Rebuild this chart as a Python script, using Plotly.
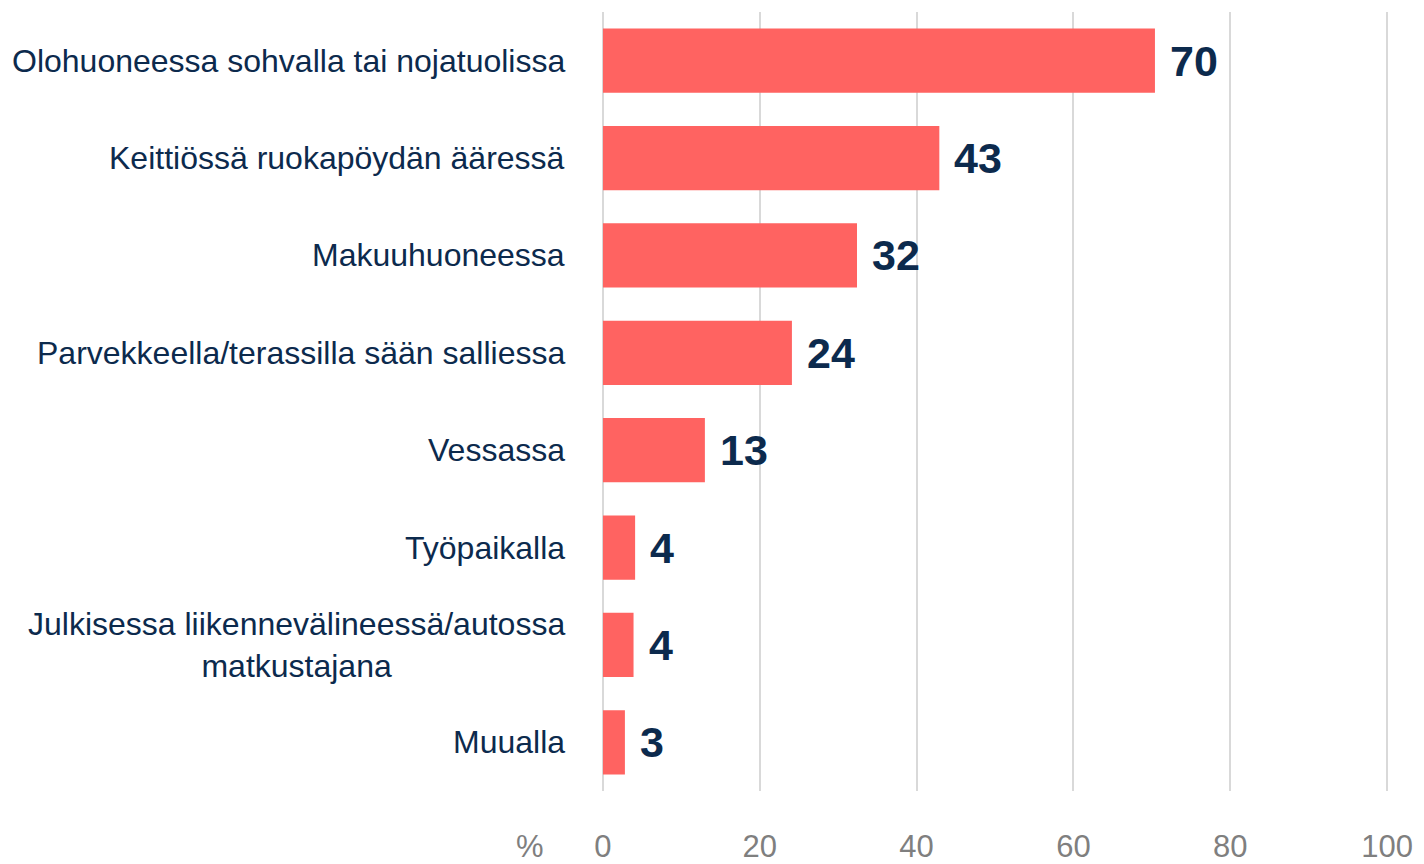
import plotly.graph_objects as go

categories = [
    "Olohuoneessa sohvalla tai nojatuolissa",
    "Keittiössä ruokapöydän ääressä",
    "Makuuhuoneessa",
    "Parvekkeella/terassilla sään salliessa",
    "Vessassa",
    "Työpaikalla",
    "Julkisessa liikennevälineessä/autossa<br>matkustajana",
    "Muualla",
]
values = [70.4, 42.9, 32.4, 24.1, 13.0, 4.1, 3.9, 2.8]
labels = ["70", "43", "32", "24", "13", "4", "4", "3"]
x_ticks = [0, 20, 40, 60, 80, 100]

NAVY = "#0c2a4d"
BAR = "#ff6361"
GRAY = "#7f7f7f"
FONT = "Liberation Sans, Arial"

fig = go.Figure()
fig.add_trace(go.Bar(
    x=values, y=categories, orientation="h",
    marker=dict(color=BAR, line=dict(width=0)),
    width=0.66, hoverinfo="skip",
))

for c, v, t in zip(categories, values, labels):
    fig.add_annotation(x=v, y=c, xref="x", yref="y", text=f"<b>{t}</b>",
                       showarrow=False, xanchor="left", xshift=13,
                       font=dict(size=43, color=NAVY, family=FONT))
    fig.add_annotation(x=0, y=c, xref="x", yref="y", text=c,
                       showarrow=False, xanchor="right", align="center", xshift=-36,
                       font=dict(size=32, color=NAVY, family=FONT))

fig.add_annotation(x=0, y=0, xref="paper", yref="paper", text="%",
                   showarrow=False, xanchor="center", yanchor="middle",
                   xshift=-71, yshift=-55,
                   font=dict(size=31, color=GRAY, family=FONT))

# page body has an 8px margin: figure is drawn at (8, 8)
fig.update_layout(
    width=1416, height=856,
    margin=dict(l=593, r=35, t=4, b=73, autoexpand=False),
    paper_bgcolor="white", plot_bgcolor="white",
    showlegend=False,
    xaxis=dict(range=[-0.25, 100.25], tickvals=x_ticks, showgrid=True,
               gridcolor="#d9d9d9", gridwidth=2, zeroline=False,
               showline=False, ticks="", ticklabelstandoff=34, automargin=False,
               tickfont=dict(size=31, color=GRAY, family=FONT)),
    yaxis=dict(categoryorder="array", categoryarray=categories[::-1],
               showticklabels=False, showgrid=False, zeroline=False, ticks="",
               automargin=False),
)

fig.write_html("out.html")
